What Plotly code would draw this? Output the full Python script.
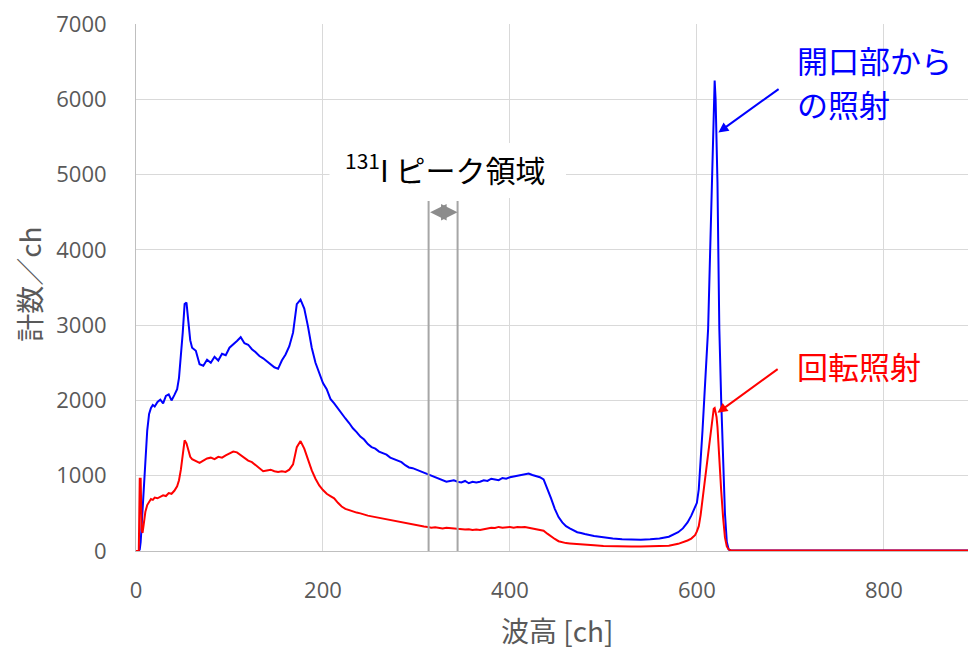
import plotly.graph_objects as go

# ---- data ----
channels = [
    0, 2, 3, 4, 5, 6, 7, 8, 10, 12, 14, 16, 18, 20, 23, 26, 29, 32, 35, 38,
    41, 44, 46, 48, 50, 52, 54, 56, 58, 60,
    64, 68, 72, 76, 80, 84, 88, 92, 96, 100,
    104, 108, 112, 116, 120, 124, 128, 132, 136, 140,
    144, 148, 152, 156, 160, 164, 168, 172, 176, 180,
    184, 188, 192, 196, 200, 204, 208, 212, 216, 220,
    224, 228, 232, 236, 240, 244, 248, 252, 256, 260,
    264, 268, 272, 276, 280, 284, 288, 292, 296, 300,
    304, 308, 312, 316, 320, 324, 328, 332, 336, 340,
    344, 348, 352, 356, 360, 364, 368, 372, 376, 380,
    384, 388, 392, 396, 400, 404, 408, 412, 416, 420,
    424, 428, 432, 436, 440, 444, 448, 452, 456, 460,
    464, 468, 472, 476, 480,
    490, 500, 510, 520, 530, 540, 550, 560, 570, 580,
    585, 590, 594, 598, 600, 602, 604, 606, 608, 610,
    612, 614, 616, 618, 619, 620, 621, 622, 623, 624,
    626, 628, 630, 632, 634, 636, 640, 660, 700, 750,
    800, 850, 890,
]

open_counts = [  # 開口部からの照射 (blue)
    0, 0, 0, 20, 120, 330, 560, 800, 1250, 1600, 1820, 1900, 1940, 1920, 1980, 2010, 1960, 2060, 2080, 2000,
    2070, 2150, 2300, 2550, 2900, 3280, 3300, 3050, 2800, 2700,
    2660, 2480, 2460, 2540, 2500, 2580, 2530, 2620, 2600, 2700,
    2740, 2790, 2840, 2760, 2740, 2680, 2640, 2590, 2560, 2520,
    2490, 2440, 2420, 2530, 2610, 2720, 2900, 3280, 3340, 3220,
    2980, 2700, 2500, 2350, 2230, 2150, 2020, 1960, 1890, 1830,
    1760, 1700, 1630, 1580, 1520, 1480, 1420, 1380, 1360, 1320,
    1300, 1280, 1240, 1220, 1210, 1180, 1140, 1110, 1100, 1080,
    1050, 1040, 1010, 990, 980, 960, 940, 920, 930, 940,
    920, 910, 930, 900, 920, 910, 920, 940, 930, 960,
    950, 940, 970, 960, 980, 990, 1000, 1010, 1020, 1030,
    1010, 1000, 980, 950, 830, 700, 560, 450, 380, 330,
    300, 270, 250, 240, 225,
    200, 180, 165, 155, 150, 150, 155, 165, 190, 250,
    300, 380, 470, 580, 640, 820, 1150, 1600, 2050, 2500,
    2950, 3900, 4900, 6000, 6250, 6000, 5500, 4900, 3900, 2950,
    2000, 1200, 500, 120, 20, 10, 5, 5, 5, 5,
    5, 5, 5,
]

rotation_counts = [  # 回転照射 (red)
    0, 0, 0, 960, 960, 280, 240, 330, 520, 610, 660, 690, 680, 710, 700, 720, 740, 730, 770, 760,
    800, 860, 940, 1080, 1280, 1470, 1430, 1320, 1250, 1220,
    1190, 1170, 1200, 1230, 1240, 1220, 1250, 1240, 1270, 1300,
    1320, 1310, 1270, 1230, 1200, 1180, 1140, 1090, 1060, 1070,
    1080, 1060, 1050, 1060, 1050, 1080, 1150, 1380, 1460, 1360,
    1200, 1070, 960, 870, 810, 760, 730, 700, 640, 590,
    560, 540, 520, 510, 500, 480, 470, 460, 450, 440,
    430, 420, 410, 400, 390, 380, 370, 360, 345, 340,
    330, 325, 320, 310, 315, 305, 300, 310, 305, 300,
    295, 290, 285, 290, 280, 285, 280, 290, 300, 310,
    305, 320, 310, 315, 320, 310, 320, 315, 320, 310,
    300, 300, 290, 270, 230, 190, 160, 130, 115, 105,
    100, 95, 90, 90, 85,
    75, 65, 60, 60, 60, 60, 62, 65, 70, 95,
    115, 140, 165, 210, 260, 330, 480, 680, 880, 1120,
    1350, 1550, 1750, 1890, 1900, 1840, 1780, 1650, 1420, 1170,
    800, 450, 180, 60, 20, 10, 5, 5, 5, 5,
    5, 5, 5,
]

assert len(channels) == len(open_counts) == len(rotation_counts)

x_ticks = [0, 200, 400, 600, 800]
y_ticks = [0, 1000, 2000, 3000, 4000, 5000, 6000, 7000]
peak_region = [313, 344]   # 131I peak region bounds [ch]

JP = "Noto Sans CJK JP"
GRAY = "#595959"

fig = go.Figure()
fig.add_trace(go.Scatter(x=channels, y=open_counts, mode="lines",
                         line=dict(color="#0000FF", width=2), name="開口部からの照射"))
fig.add_trace(go.Scatter(x=channels, y=rotation_counts, mode="lines",
                         line=dict(color="#FF0000", width=2), name="回転照射"))

# white box behind the region label
fig.add_shape(type="rect", xref="x", yref="y", x0=207, x1=460, y0=4690, y1=5420,
              fillcolor="white", line=dict(width=0), layer="above")
# region boundary lines
for xc in peak_region:
    fig.add_shape(type="line", xref="x", yref="y", x0=xc, x1=xc, y0=0, y1=4650,
                  line=dict(color="#a6a6a6", width=2), layer="above")

annotations = [
    dict(x=344, y=4500, ax=313, ay=4500, axref="x", ayref="y", xref="x", yref="y",
         text="", showarrow=True, arrowhead=2, arrowside="end+start", arrowsize=1.1,
         arrowwidth=3, arrowcolor="#8c8c8c", standoff=0, startstandoff=0),
    dict(x=331, y=5090, xref="x", yref="y", text="<sup>131</sup>I ピーク領域",
         showarrow=False, font=dict(family=JP, size=30, color="black"),
         xanchor="center", yanchor="middle"),
    dict(x=705, y=6535, xref="x", yref="y", text="開口部から", showarrow=False,
         font=dict(family=JP, size=31, color="#0000FF"), xanchor="left", yanchor="middle"),
    dict(x=705, y=5950, xref="x", yref="y", text="の照射", showarrow=False,
         font=dict(family=JP, size=31, color="#0000FF"), xanchor="left", yanchor="middle"),
    dict(x=705, y=2470, xref="x", yref="y", text="回転照射", showarrow=False,
         font=dict(family=JP, size=31, color="#FF0000"), xanchor="left", yanchor="middle"),
    dict(x=623, y=5560, ax=689, ay=6150, axref="x", ayref="y", xref="x", yref="y",
         text="", showarrow=True, arrowhead=2, arrowsize=1, arrowwidth=2,
         arrowcolor="#0000FF", standoff=0),
    dict(x=622, y=1835, ax=688, ay=2430, axref="x", ayref="y", xref="x", yref="y",
         text="", showarrow=True, arrowhead=2, arrowsize=1, arrowwidth=2,
         arrowcolor="#FF0000", standoff=0),
    dict(x=0.5066, y=-0.15, xref="paper", yref="paper", text="波高 [ch]", showarrow=False,
         font=dict(family=JP, size=28, color=GRAY), xanchor="center", yanchor="middle"),
    dict(x=-0.1286, y=0.505, xref="paper", yref="paper", text="計数／ch", showarrow=False,
         textangle=-90, font=dict(family=JP, size=28, color=GRAY),
         xanchor="center", yanchor="middle"),
]

fig.update_layout(
    width=969, height=650,
    margin=dict(l=136, r=1, t=24, b=99),
    plot_bgcolor="white", paper_bgcolor="white",
    showlegend=False,
    annotations=annotations,
    xaxis=dict(range=[0, 890], tickvals=x_ticks, showgrid=True, gridcolor="#d9d9d9",
               gridwidth=1, showline=True, linecolor="#bfbfbf", linewidth=1,
               zeroline=False, ticks="", ticklabelstandoff=20,
               tickfont=dict(family="Open Sans", size=22, color=GRAY)),
    yaxis=dict(range=[0, 7000], tickvals=y_ticks, showgrid=True, gridcolor="#d9d9d9",
               gridwidth=1, showline=True, linecolor="#bfbfbf", linewidth=1,
               zeroline=False, ticks="", ticklabelstandoff=24,
               tickfont=dict(family="Open Sans", size=22, color=GRAY)),
)

fig.write_html(
    "out.html",
    config={"displayModeBar": False},
    post_script="document.body.style.margin='0';document.body.style.padding='0';",
)
